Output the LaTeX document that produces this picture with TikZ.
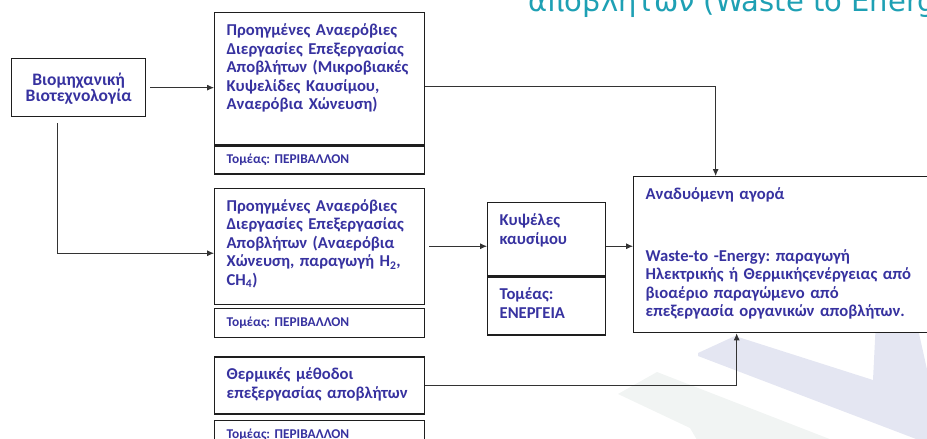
\documentclass[tikz,border=0pt]{standalone}
\usepackage{fontspec}
\setmainfont{Carlito}
\newfontfamily\cimfont{DejaVu Sans}
\usetikzlibrary{arrows.meta,positioning}
\definecolor{szoveg}{RGB}{55,50,160}
\definecolor{keret}{RGB}{30,30,30}
\definecolor{cimszin}{RGB}{30,160,180}
\definecolor{lila}{RGB}{228,230,242}
\definecolor{szurke}{RGB}{241,244,243}
\tikzset{
  kouti/.style={draw=keret,line width=1.3pt,fill=white,anchor=north west,align=left,text=szoveg,
                font=\frenchspacing\bfseries\fontsize{16.6}{18.5}\selectfont,inner xsep=12pt,inner ysep=8pt,
                text height=15pt},
  tomeas/.style={kouti,font=\frenchspacing\bfseries\fontsize{13.4}{15}\selectfont,inner ysep=6pt,
                 text height=12pt,text depth=4pt},
  velos/.style={-{Latex[length=7pt,width=6pt]},draw=black!80,line width=0.8pt},
}

\begin{document}
\begin{tikzpicture}[x=1pt,y=-1pt]
  \useasboundingbox (0,0) rectangle (927,439);
  \clip (0,0) rectangle (927,439);
  % background logo
  \fill[szurke] (618,394) -- (657,372) -- (845,445) -- (700,445) -- (690,428) -- cycle;
  \fill[lila] (698,353) -- (735,336) -- (873,380) -- (876,320) -- (916,320) -- (945,450) -- (698,356) -- cycle;
  \node[text=cimszin,font=\cimfont\fontsize{29}{34}\selectfont,anchor=base west,inner sep=0pt]
    (T) at (528,12) {αποβλήτων (Waste to Energy)};

  \node[kouti,font=\bfseries\fontsize{17.5}{18}\selectfont,align=center,text width=110pt,
        minimum width=134pt,minimum height=58pt] (A) at (11,58)
    {Βιομηχανική\\[-2pt] Βιοτεχνολογία};
  \node[kouti,text width=186pt,text depth=101pt] (B) at (214,12)
    {Προηγμένες Αναερόβιες\\ Διεργασίες Επεξεργασίας\\ Αποβλήτων (Μικροβιακές\\ Κυψελίδες Καυσίμου,\\ Αναερόβια Χώνευση)};
  \node[tomeas,text width=186pt,below=0pt of B] (Bt) {Τομέας: ΠΕΡΙΒΑΛΛΟΝ};
  \node[kouti,text width=186pt,text depth=85pt,below=13pt of Bt] (C)
    {Προηγμένες Αναερόβιες\\ Διεργασίες Επεξεργασίας\\ Αποβλήτων (Αναερόβια\\ Χώνευση, παραγωγή H\textsubscript{2},\\ CH\textsubscript{4})};
  \node[tomeas,text width=186pt,text depth=5pt,below=3pt of C] (Ct) {Τομέας: ΠΕΡΙΒΑΛΛΟΝ};
  \node[kouti,text width=186pt,text depth=26pt,below=18pt of Ct] (D)
    {Θερμικές μέθοδοι\\ επεξεργασίας αποβλήτων};
  \node[tomeas,text width=186pt,below=5pt of D] (Dt) {Τομέας: ΠΕΡΙΒΑΛΛΟΝ};
  \node[kouti,text width=94pt,text depth=42pt] (E) at (487,202) {Κυψέλες\\ καυσίμου};
  \node[kouti,text width=94pt,text depth=27pt,below=0pt of E] (Et) {Τομέας:\\ ΕΝΕΡΓΕΙΑ};
  \node[kouti,text width=288pt,text depth=125pt] (F) at (633,176)
    {Αναδυόμενη αγορά\\[43pt] Waste-to -Energy: παραγωγή\\ Ηλεκτρικής ή Θερμικήςενέργειας από\\
     βιοαέριο παραγώμενο από\\ επεξεργασία οργανικών αποβλήτων.};

  \draw[velos] ([xshift=4pt]A.east) -- (A.east -| B.west);
  \draw[velos] ([xshift=-21pt,yshift=-6pt]A.south) |- ([yshift=-7pt]C.west);
  \draw[velos] ([xshift=4pt]C.east) -- (C.east -| E.west);
  \draw[velos] (E.east |- C.east) -- (C.east -| F.west);
  \draw[velos] ([yshift=-8pt]B.east) -| ([xshift=-74pt]F.north);
  \draw[velos] (D.east) -| ([xshift=-53pt]F.south);
\end{tikzpicture}
\end{document}
